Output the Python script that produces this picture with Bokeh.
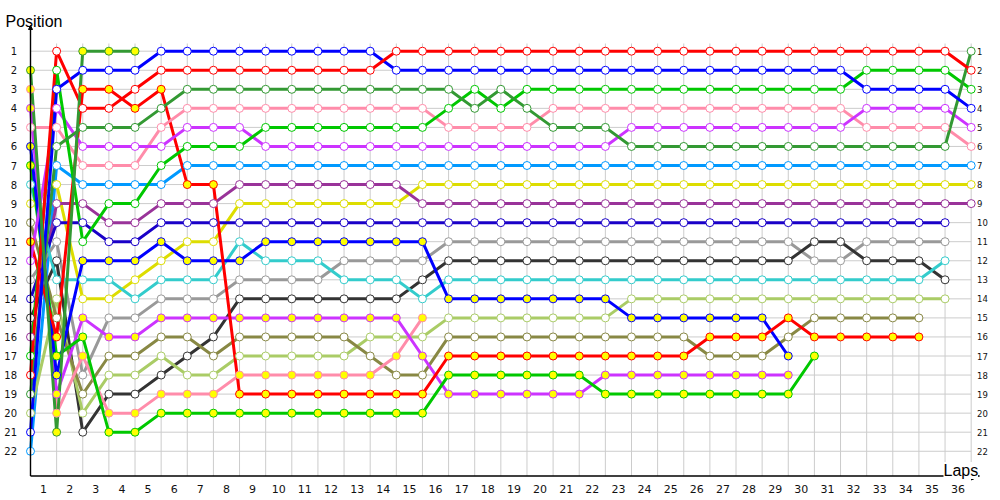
from bokeh.plotting import figure
from bokeh.models import Range1d, Label, Arrow, NormalHead
from bokeh.core.properties import value
from bokeh.embed import file_html
from bokeh.resources import INLINE

# ---------------- data ----------------
laps = list(range(37))                      # lap 0 = starting grid
x_tick_labels = [str(i) for i in range(1, 37)]
y_ticks = list(range(1, 23))
y_tick_labels = [str(i) for i in y_ticks]

N = None
#           laps 0-9                              10-19                              20-29                              30-36
red_a     = [18, 1, 4, 4, 3, 2, 2, 2, 2, 2,      2, 2, 2, 2, 1, 1, 1, 1, 1, 1,      1, 1, 1, 1, 1, 1, 1, 1, 1, 1,      1, 1, 1, 1, 1, 1, 2]
blue_a    = [21, 3, 2, 2, 2, 1, 1, 1, 1, 1,      1, 1, 1, 1, 2, 2, 2, 2, 2, 2,      2, 2, 2, 2, 2, 2, 2, 2, 2, 2,      2, 2, 3, 3, 3, 3, 4]
green_dk  = [19, 6, 5, 5, 5, 4, 3, 3, 3, 3,      3, 3, 3, 3, 3, 3, 3, 4, 3, 4,      5, 5, 5, 6, 6, 6, 6, 6, 6, 6,      6, 6, 6, 6, 6, 6, 1]
green_a   = [17, 2, 11, 9, 9, 7, 6, 6, 6, 5,     5, 5, 5, 5, 5, 5, 4, 3, 4, 3,      3, 3, 3, 3, 3, 3, 3, 3, 3, 3,      3, 3, 2, 2, 2, 2, 3]
pink_a    = [5, 5, 7, 7, 7, 5, 4, 4, 4, 4,       4, 4, 4, 4, 4, 4, 5, 5, 5, 5,      4, 4, 4, 4, 4, 4, 4, 4, 4, 4,      4, 4, 5, 5, 5, 5, 6]
magenta_a = [12, 4, 6, 6, 6, 6, 5, 5, 5, 6,      6, 6, 6, 6, 6, 6, 6, 6, 6, 6,      6, 6, 6, 5, 5, 5, 5, 5, 5, 5,      5, 5, 4, 4, 4, 4, 5]
sky       = [22, 7, 8, 8, 8, 8, 7, 7, 7, 7,      7, 7, 7, 7, 7, 7, 7, 7, 7, 7,      7, 7, 7, 7, 7, 7, 7, 7, 7, 7,      7, 7, 7, 7, 7, 7, 7]
yellow    = [9, 8, 14, 14, 13, 12, 11, 11, 9, 9, 9, 9, 9, 9, 9, 8, 8, 8, 8, 8,      8, 8, 8, 8, 8, 8, 8, 8, 8, 8,      8, 8, 8, 8, 8, 8, 8]
purple    = [16, 9, 9, 10, 10, 9, 9, 9, 8, 8,    8, 8, 8, 8, 8, 9, 9, 9, 9, 9,      9, 9, 9, 9, 9, 9, 9, 9, 9, 9,      9, 9, 9, 9, 9, 9, 9]
navy      = [14, 10, 10, 11, 11, 10, 10, 10, 10, 10, 10, 10, 10, 10, 10, 10, 10, 10, 10, 10, 10, 10, 10, 10, 10, 10, 10, 10, 10, 10, 10, 10, 10, 10, 10, 10, N]
gray      = [13, 11, 18, 15, 15, 14, 14, 14, 13, 13, 13, 13, 12, 12, 12, 12, 11, 11, 11, 11, 11, 11, 11, 11, 11, 11, 11, 11, 11, 11, 12, 12, 11, 11, 11, 11, N]
black     = [15, 12, 21, 19, 19, 18, 17, 16, 14, 14, 14, 14, 14, 14, 14, 13, 12, 12, 12, 12, 12, 12, 12, 12, 12, 12, 12, 12, 12, 12, 11, 11, 12, 12, 12, 13, N]
cyan      = [8, 13, 13, 13, 14, 13, 13, 13, 11, 12,  12, 12, 13, 13, 13, 14, 13, 13, 13, 13, 13, 13, 13, 13, 13, 13, 13, 13, 13, 13, 13, 13, 13, 13, 13, 12, N]
lime      = [20, 14, 20, 18, 18, 17, 18, 18, 17, 17, 17, 17, 17, 16, 16, 16, 15, 15, 15, 15, 15, 15, 15, 14, 14, 14, 14, 14, 14, 14, 14, 14, 14, 14, 14, 14, N]
olive     = [10, 15, 19, 17, 17, 16, 16, 17, 16, 16, 16, 16, 16, 17, 18, 18, 16, 16, 16, 16, 16, 16, 16, 16, 16, 16, 17, 17, 17, 16, 15, 15, 15, 15, 15, N, N]
red_b     = [11, 16, 3, 3, 4, 3, 8, 8, 19, 19,   19, 19, 19, 19, 19, 19, 17, 17, 17, 17, 17, 17, 17, 17, 17, 17, 16, 16, 16, 15, 16, 16, 16, 16, 16, N, N]
green_b   = [7, 17, 16, 21, 21, 20, 20, 20, 20, 20, 20, 20, 20, 20, 20, 20, 18, 18, 18, 18, 18, 18, 19, 19, 19, 19, 19, 19, 19, 19, 17, N, N, N, N, N, N]
blue_b    = [6, 18, 12, 12, 12, 11, 12, 12, 12, 11, 11, 11, 11, 11, 11, 11, 14, 14, 14, 14, 14, 14, 14, 15, 15, 15, 15, 15, 15, 17, N, N, N, N, N, N, N]
magenta_b = [4, 19, 15, 16, 16, 15, 15, 15, 15, 15, 15, 15, 15, 15, 15, 17, 19, 19, 19, 19, 19, 19, 18, 18, 18, 18, 18, 18, 18, 18, N, N, N, N, N, N, N]
pink_b    = [3, 20, 17, 20, 20, 19, 19, 19, 18, 18, 18, 18, 18, 18, 17, 15, N, N, N, N, N, N, N, N, N, N, N, N, N, N, N, N, N, N, N, N, N]
green_c   = [2, 21, 1, 1, 1, N, N, N, N, N, N, N, N, N, N, N, N, N, N, N, N, N, N, N, N, N, N, N, N, N, N, N, N, N, N, N, N]

WHITE, YEL = "#FFFFFF", "#FFFF00"
series = [
    (sky, "#0099FF", WHITE), (yellow, "#DDDD00", WHITE), (purple, "#993399", WHITE),
    (navy, "#1A00C8", WHITE), (gray, "#999999", WHITE), (black, "#333333", WHITE),
    (cyan, "#33CCCC", WHITE), (lime, "#AACC66", WHITE), (olive, "#888844", WHITE),
    (pink_b, "#FF8CAA", YEL), (magenta_b, "#CC33FF", YEL), (green_b, "#00C800", YEL),
    (blue_b, "#0000FF", YEL), (red_b, "#FF0000", YEL),
    (pink_a, "#FF8CAA", WHITE), (magenta_a, "#CC33FF", WHITE), (green_a, "#00C800", WHITE),
    (green_dk, "#339933", WHITE), (blue_a, "#0000FF", WHITE), (red_a, "#FF0000", WHITE),
    (green_c, "#339933", YEL),
]

# ---------------- layout (screen pixels -> data units) ----------------
PAGE, W, H = 0, 1000, 500
LAP0_PX, LAP_PX = 30.0, 26.13
POS1_PX, POS_PX = 50.7, 19.05


def lx(s):
    return (s - LAP0_PX) / LAP_PX


def py(s):
    return 1 + (s - POS1_PX) / POS_PX


AX_Y = py(475.5)      # position of the bottom axis line
GRID_TOP = py(43)

p = figure(width=W, height=H, output_backend="svg", toolbar_location=None,
           x_range=Range1d(lx(PAGE), lx(PAGE + W)),
           y_range=Range1d(py(PAGE + H), py(PAGE)),
           x_axis_location=None, y_axis_location=None, title=None,
           min_border=0, min_border_left=0, min_border_right=0,
           min_border_top=0, min_border_bottom=0)
p.outline_line_color = None
p.background_fill_color = "white"
p.border_fill_color = "white"
p.grid.visible = False

# grid
last_lap = laps[-1]
p.segment(x0=laps, y0=[GRID_TOP] * len(laps), x1=laps, y1=[AX_Y] * len(laps),
          line_color="#CCCCCC", line_width=1)
p.segment(x0=[laps[0]] * len(y_ticks), y0=y_ticks, x1=[last_lap] * len(y_ticks), y1=y_ticks,
          line_color="#CCCCCC", line_width=1)

# series lines, then markers
pts = []
for vals, color, fill in series:
    xs = [l for l, v in zip(laps, vals) if v is not None]
    ys = [v for v in vals if v is not None]
    p.line(xs, ys, line_color=color, line_width=3, line_join="round")
    pts.append((xs, ys, color, fill))
for xs, ys, color, fill in pts:
    p.scatter(xs, ys, marker="circle", size=8, line_color=color, fill_color=fill, line_width=1)

# axes (lines with arrow heads)
p.add_layout(Arrow(end=NormalHead(size=8, fill_color="black", line_color="black"),
                   x_start=laps[0], y_start=AX_Y, x_end=lx(979), y_end=AX_Y,
                   line_color="black", line_width=1.4))
p.add_layout(Arrow(end=NormalHead(size=4, fill_color="black", line_color="black"),
                   x_start=laps[0], y_start=AX_Y, x_end=laps[0], y_end=py(25),
                   line_color="black", line_width=1.4))

# tick labels
x_label_pos = [k - 0.5 for k in laps[1:]]
p.text(x=x_label_pos, y=[py(488.5)] * len(x_label_pos), text=x_tick_labels,
       text_font=value("DejaVu Sans"), text_font_size=value("11px"), text_color="#111111",
       text_align="center", text_baseline="middle")
p.text(x=[lx(16.5)] * len(y_ticks), y=y_ticks, text=y_tick_labels,
       text_font=value("DejaVu Sans"), text_font_size=value("10px"), text_color="#111111",
       text_align="right", text_baseline="middle")
p.text(x=[lx(976.5)] * len(y_ticks), y=y_ticks, text=y_tick_labels,
       text_font=value("DejaVu Sans"), text_font_size=value("8.5px"), text_color="#111111",
       text_align="left", text_baseline="middle")

# axis titles
p.add_layout(Label(x=lx(5), y=py(21), text="Position", text_font="Liberation Sans",
                   text_font_size="16px", text_color="black", text_baseline="alphabetic"))
p.add_layout(Label(x=lx(943), y=py(470), text="Laps", text_font="Liberation Sans",
                   text_font_size="16px", text_color="black", text_baseline="alphabetic",
                   background_fill_color="white", padding=0))

open("out.html", "w").write(file_html(p, INLINE))
